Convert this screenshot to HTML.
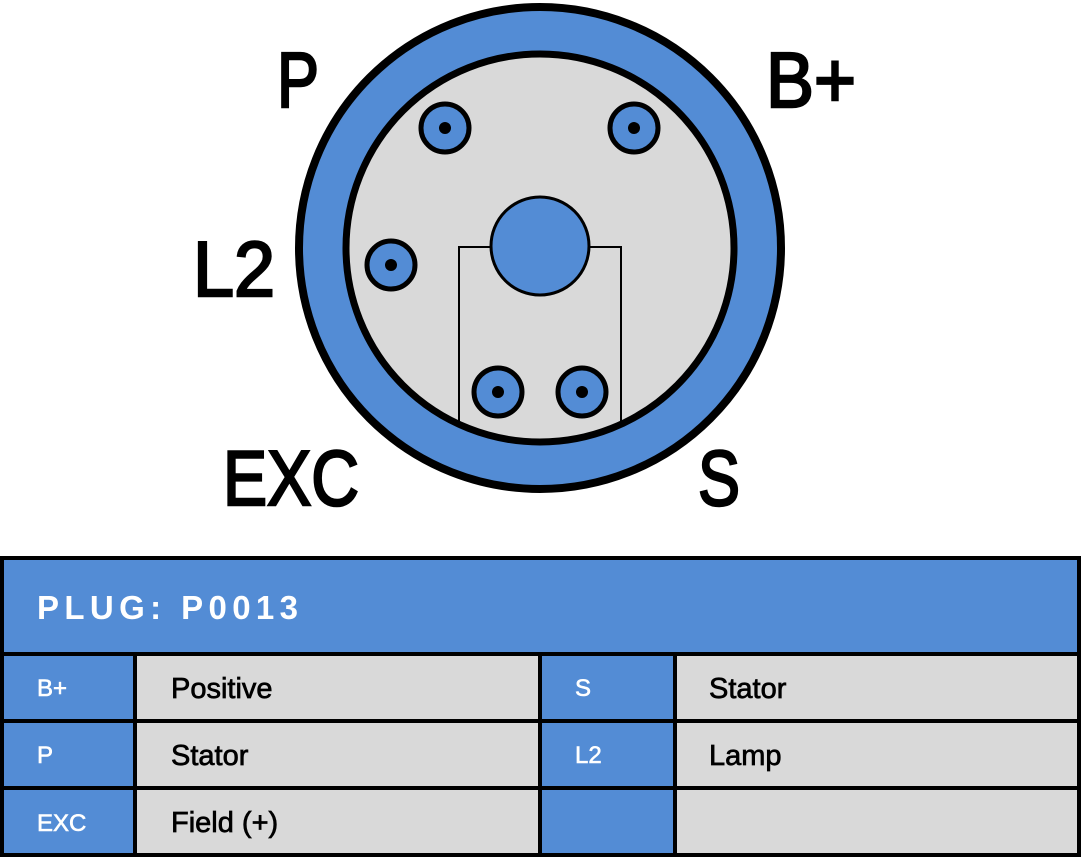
<!DOCTYPE html>
<html><head><meta charset="utf-8"><style>
html,body{margin:0;padding:0;background:#fff;}
svg{display:block;font-family:"Liberation Sans",sans-serif;}
</style></head><body>
<svg width="1081" height="857" viewBox="0 0 1081 857" xmlns="http://www.w3.org/2000/svg">
<circle cx="540" cy="248" r="241" fill="#538cd5" stroke="#000" stroke-width="8"/>
<circle cx="540" cy="248" r="194" fill="#d9d9d9" stroke="#000" stroke-width="7"/>
<defs><clipPath id="ic"><circle cx="540" cy="248" r="191"/></clipPath></defs>
<rect x="459" y="247" width="162" height="260" fill="none" stroke="#000" stroke-width="2" clip-path="url(#ic)"/>
<circle cx="540" cy="246" r="49" fill="#538cd5" stroke="#000" stroke-width="3"/>
<g fill="#538cd5" stroke="#000" stroke-width="5">
<circle cx="445" cy="128" r="24"/><circle cx="634" cy="128" r="24"/>
<circle cx="391" cy="265" r="24"/><circle cx="498" cy="392" r="24"/><circle cx="582" cy="392" r="24"/>
</g>
<g fill="#000">
<circle cx="445" cy="128" r="6"/><circle cx="634" cy="128" r="6"/>
<circle cx="391" cy="265" r="6"/><circle cx="498" cy="392" r="6"/><circle cx="582" cy="392" r="6"/>
</g>
<g font-size="78" fill="#000" stroke="#000" stroke-width="2.5">
<text x="277" y="107" textLength="42" lengthAdjust="spacingAndGlyphs">P</text>
<text x="766" y="107" textLength="90" lengthAdjust="spacingAndGlyphs">B+</text>
<text x="193" y="296" textLength="82" lengthAdjust="spacingAndGlyphs">L2</text>
<text x="223" y="505" textLength="136" lengthAdjust="spacingAndGlyphs">EXC</text>
<text x="698" y="505" textLength="42" lengthAdjust="spacingAndGlyphs">S</text>
</g>
<rect x="2" y="558" width="1077" height="297" fill="#538cd5" stroke="#000" stroke-width="4"/>
<g fill="#d9d9d9">
<rect x="135" y="654" width="405" height="201"/>
<rect x="675" y="654" width="404" height="201"/>
</g>
<g stroke="#000" stroke-width="4">
<line x1="0" y1="654" x2="1081" y2="654"/>
<line x1="0" y1="721" x2="1081" y2="721"/>
<line x1="0" y1="788" x2="1081" y2="788"/>
<line x1="135" y1="654" x2="135" y2="857"/>
<line x1="540" y1="654" x2="540" y2="857"/>
<line x1="675" y1="654" x2="675" y2="857"/>
</g>
<rect x="2" y="558" width="1077" height="297" fill="none" stroke="#000" stroke-width="4"/>
<text x="37" y="619" font-size="33" font-weight="bold" fill="#fff" letter-spacing="5" textLength="266" lengthAdjust="spacing">PLUG: P0013</text>
<g font-size="24" fill="#fff" stroke="#fff" stroke-width="0.6">
<text x="37" y="696">B+</text><text x="37" y="763">P</text><text x="37" y="831">EXC</text>
<text x="575" y="696">S</text><text x="575" y="763">L2</text>
</g>
<g font-size="29" fill="#000" stroke="#000" stroke-width="0.7">
<text x="171" y="698">Positive</text><text x="171" y="765">Stator</text><text x="171" y="832">Field (+)</text>
<text x="709" y="698">Stator</text><text x="709" y="765">Lamp</text>
</g>
</svg>
</body></html>
